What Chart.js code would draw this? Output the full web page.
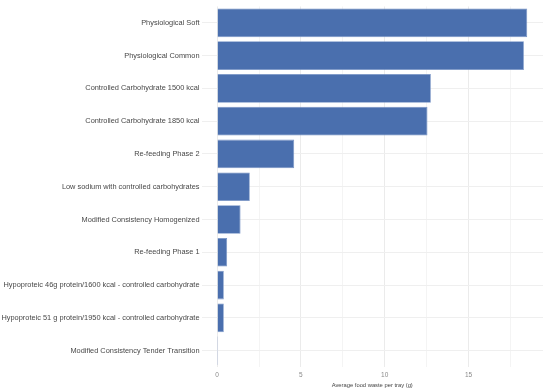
<!DOCTYPE html>
<html>
<head>
<meta charset="utf-8">
<script src="https://cdn.jsdelivr.net/npm/chart.js@4"></script>
<style>
    html, body { margin: 0; padding: 0; background: #ffffff; }
    #wrapper { width: 550px; height: 389px; }
</style>
</head>
<body>
<div id="wrapper"><canvas id="canvas-0-0"></canvas></div>
<script>
// Data
let dietNames = [
    'Physiological Soft',
    'Physiological Common',
    'Controlled Carbohydrate 1500 kcal',
    'Controlled Carbohydrate 1850 kcal',
    'Re-feeding Phase 2',
    'Low sodium with controlled carbohydrates',
    'Modified Consistency Homogenized',
    'Re-feeding Phase 1',
    'Hypoproteic 46g protein/1600 kcal - controlled carbohydrate',
    'Hypoproteic 51 g protein/1950 kcal - controlled carbohydrate',
    'Modified Consistency Tender Transition'
];
let avgWaste = [18.5, 18.3, 12.75, 12.55, 4.6, 1.95, 1.4, 0.6, 0.4, 0.4, 0.06];
let xTickLabels = [0, 5, 10, 15];
let xTitle = 'Average food waste per tray (g)';

function log(arg) {
    console.log(arg);
}

/*******************************************************************************
* MAIN
*******************************************************************************/
let ctx = document.getElementById('canvas-0-0').getContext('2d');
let chart = new Chart(ctx, {
    type: 'bar',
    data: {
        labels: dietNames,
        datasets: [{
            data: avgWaste,
            backgroundColor: '#4a6fae',
            borderColor: '#7491c4',
            borderWidth: 0.8,
            categoryPercentage: 1.0,
            barPercentage: 0.875
        }]
    },
    options: {
        indexAxis: 'y',
        responsive: true,
        maintainAspectRatio: false,
        animation: false,
        layout: { padding: { top: 6, right: 7, left: 0, bottom: 0 } },
        plugins: {
            legend: { display: false },
            tooltip: { enabled: false }
        },
        scales: {
            x: {
                min: -0.93,
                max: 19.44,
                border: { display: false },
                grid: {
                    drawTicks: false,
                    color: function(c) {
                        return (c.tick && c.tick.value % 5 === 0) ? '#ebebeb' : '#f4f4f4';
                    },
                    lineWidth: 1
                },
                afterBuildTicks: function(axis) {
                    let t = [];
                    for (let v = 0; v <= 17.5; v += 2.5) t.push({ value: v });
                    axis.ticks = t;
                },
                ticks: {
                    padding: 4,
                    autoSkip: false,
                    maxRotation: 0,
                    color: '#8a8a8a',
                    font: { family: 'Liberation Sans', size: 6.5 },
                    callback: function(v) {
                        return xTickLabels.indexOf(v) >= 0 ? String(v) : '';
                    }
                },
                title: {
                    display: true,
                    text: xTitle,
                    color: '#444444',
                    padding: { top: 0, bottom: 0 },
                    font: { family: 'Liberation Sans', size: 5.8 }
                },
                afterFit: function(axis) { axis.height = 22; }
            },
            y: {
                border: { display: false },
                grid: { drawTicks: false, offset: false, color: '#efefef', lineWidth: 1 },
                ticks: {
                    padding: 2,
                    autoSkip: false,
                    color: '#474747',
                    font: { family: 'Liberation Sans', size: 7.4 }
                },
                afterFit: function(axis) { axis.width = 201.5; }
            }
        }
    }
});
log(chart.chartArea);
</script>
</body>
</html>
